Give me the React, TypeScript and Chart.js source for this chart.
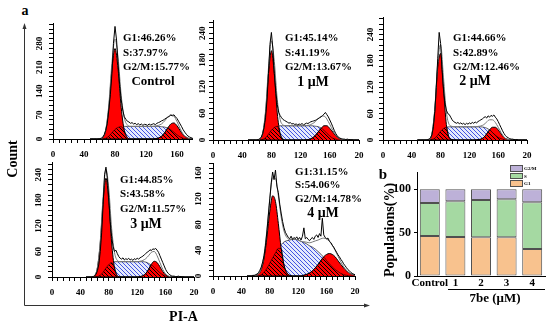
import React, { useEffect, useRef } from 'react';
import { Chart, registerables } from 'chart.js';
Chart.register(...registerables);

const FONT = "'Liberation Serif', 'Times New Roman', Times, serif";

function grid(start: number, end: number, step: number) {
  const a: number[] = [];
  for (let v = start; v <= end + 1e-9; v += step) a.push(Math.round(v * 1000) / 1000);
  return a;
}
const FIT_X = grid(48, 200, 4);
const RAW_X = grid(48, 200, 2);

// ---------- Control ----------
const CTRL_RAW = [0,0,0,0,0,0,1,2,5,12,25,45,85,130,190,280,330,290,220,160,115,85,65,58,52,50,46,48,44,46,42,45,41,44,40,43,42,40,44,41,43,45,42,46,48,50,53,55,58,61,64,66,70,68,71,65,60,52,44,36,27,20,14,9,6,4,2,1,1];
const CTRL_G1 = [0,0,0,0,4,25,92,204,265,204,92,25,4];
const CTRL_S = [0,0,0,0,0,2,8,18,28,34,36,37,37,37,37,37,37,37,37,37,37,37,37,36,35,32,27,20,12,6,2,1];
const CTRL_G2 = [0,0,0,0,0,0,0,0,0,0,0,0,0,0,0,0,0,0,0,0,0,1,3,8,18,32,44,47,39,25,12,5,1];

// ---------- 1 uM ----------
const UM1_RAW = [0,0,0,0,0,0,0,1,3,6,14,28,50,90,150,215,242,205,150,110,80,62,55,50,46,44,42,40,38,39,36,37,35,36,34,36,35,37,34,36,38,37,39,41,42,43,44,46,48,50,52,55,58,62,57,52,45,38,30,22,15,10,6,4,3,2,2,1,2,1,1,1];
const UM1_G1 = [0,0,0,0,2,14,61,149,201,149,61,14,2];
const UM1_S = [0,0,0,0,0,1,5,13,22,28,31,32,32,32,32,32,32,32,32,32,32,32,32,31,30,27,22,15,9,4,2];
const UM1_G2 = [0,0,0,0,0,0,0,0,0,0,0,0,0,0,0,0,0,0,0,0,0.5,1.6,4.5,10,18,26,32,32,26,18,10,4.5,1.6,0.5];

// ---------- 2 uM ----------
const UM2_RAW = [0,0,0,0,0,0,0,1,2,5,12,30,65,120,185,245,220,160,115,85,68,60,58,52,46,42,40,38,40,37,39,36,38,35,38,36,39,37,40,38,41,39,42,44,46,48,51,53,50,55,52,56,54,57,52,48,42,35,28,21,15,10,7,5,3,2,2,1,1,1];
const UM2_G1 = [0,0,0,0,1,14,69,165,197,117,35,5,1];
const UM2_S = [0,0,0,0,0,1,4,11,20,26,29,30,30,30,30,30,30,30,30,30,30,30,30,29,27,23,17,11,6,3,1];
const UM2_G2 = [0,0,0,0,0,0,0,0,0,0,0,0,0,0,0,0,0,0,0,0,0,1,2,6,14,23,29,29,23,14,6,2,1];

// ---------- 3 uM ----------
const UM3_RAW = [0,0,0,0,0,1,3,6,15,30,60,105,170,240,258,230,185,130,95,72,60,63,55,48,44,42,45,40,43,41,44,40,42,39,43,41,44,42,45,47,49,52,55,58,60,64,62,66,65,67,63,58,50,42,34,26,18,12,8,5,3,2,2,1,1,2,1,1,1];
const UM3_G1 = [0,0,0,3,22,80,178,232,178,80,22,3];
const UM3_S = [0,0,0,0,1,4,11,21,29,34,36,36,36,36,36,36,36,36,36,36,36,35,32,28,23,16,10,5,2,1];
const UM3_G2 = [0,0,0,0,0,0,0,0,0,0,0,0,0,0,0,0,0,0,0,1,3,8,18,30,37,34,24,13,5,1.5];

// ---------- 4 uM ----------
const UM4_RAW = [0,0,0,0,1,1,2,3,5,9,14,22,32,48,70,95,120,145,162,150,165,140,130,112,98,85,75,68,64,60,58,62,57,60,58,61,57,60,56,62,75,58,60,57,55,58,60,57,62,64,60,66,62,90,64,60,58,59,54,52,48,45,41,37,33,30,26,23,19,16,13,10,8,6,4,3,2];
const UM4_G1 = [0,0,0,1,3,10,28,61,101,125,116,82,43,17,5,1];
const UM4_S = [0,0,0,0,0,2,6,12,20,28,36,43,49,53,55,56,57,57,56,54,52,50,47,45,42,38,34,29,24,19,14,10,7,4,2,1];
const UM4_G2 = [0,0,0,0,0,0,0,0,0,0,0,0,0,0,0,0,0,0,0,0,1.3,2.6,4.7,8,12.6,18,24,30,33.6,35,33.6,30,24,18,12.6,8,4.7,2.6,1.3];

// ---------- cell-cycle percentages (panel b and annotations) ----------
const CONDITIONS = ['Control', '1', '2', '3', '4'];
const PANEL_NAMES = ['Control', '1 μM', '2 μM', '3 μM', '4 μM'];
const G1_PCT = [46.26, 45.14, 44.66, 44.85, 31.15];
const S_PCT = [37.97, 41.19, 42.89, 43.58, 54.06];
const G2M_PCT = [15.77, 13.67, 12.46, 11.57, 14.78];

const X_MAJOR = 40;
const X_MINOR = 8;
const BAR_Y_TICKS = [0, 50, 100];

type PanelDef = {
  raw: number[]; g1: number[]; s: number[]; g2: number[];
  left: number; top: number; plotW: number; plotH: number;
  yMax: number; yMajor: number; yMinor: number; labOff: number; clipRight?: number;
  ax: number; ay: number[]; lx: number; ly: number; ls: number;
};

const PANELS: PanelDef[] = [
  { raw: CTRL_RAW, g1: CTRL_G1, s: CTRL_S, g2: CTRL_G2, left: 53, top: 23, plotW: 155, plotH: 116, yMax: 340, yMajor: 70, yMinor: 14, labOff: 13.5, clipRight: 193, ax: 123, ay: [37, 52, 66], lx: 153, ly: 80, ls: 13 },
  { raw: UM1_RAW, g1: UM1_G1, s: UM1_S, g2: UM1_G2, left: 213, top: 20, plotW: 146, plotH: 120, yMax: 270, yMajor: 60, yMinor: 12, labOff: 10.5, ax: 285, ay: [37, 52, 66], lx: 313, ly: 82, ls: 14 },
  { raw: UM2_RAW, g1: UM2_G1, s: UM2_S, g2: UM2_G2, left: 383, top: 17, plotW: 144, plotH: 123, yMax: 280, yMajor: 60, yMinor: 12, labOff: 12, ax: 453, ay: [37, 52, 66], lx: 475, ly: 81, ls: 14 },
  { raw: UM3_RAW, g1: UM3_G1, s: UM3_S, g2: UM3_G2, left: 52, top: 162, plotW: 142, plotH: 115, yMax: 270, yMajor: 60, yMinor: 12, labOff: 13, ax: 120, ay: [179, 193, 208], lx: 146, ly: 224, ls: 14 },
  { raw: UM4_RAW, g1: UM4_G1, s: UM4_S, g2: UM4_G2, left: 213, top: 163, plotW: 142, plotH: 113, yMax: 176, yMajor: 40, yMinor: 8, labOff: 14.5, ax: 295, ay: [171, 184, 198], lx: 323, ly: 213, ls: 14 },
];

// crisp diagonal ("\") hatch tile, one pixel per row
function makeHatch(ctx: CanvasRenderingContext2D, color: string, s: number, bg?: string) {
  const c = document.createElement('canvas');
  c.width = s; c.height = s;
  const g = c.getContext('2d')!;
  if (bg) { g.fillStyle = bg; g.fillRect(0, 0, s, s); }
  g.fillStyle = color;
  for (let i = 0; i < s; i++) g.fillRect(i, i, 1, 1);
  return ctx.createPattern(c, 'repeat')!;
}

const LPAD = 24, TPAD = 6, RPAD = 14, BPAD = 26, YW = 6, XH = 22;

function HistPanel({ p }: { p: PanelDef }) {
  const ref = useRef<HTMLCanvasElement>(null);
  useEffect(() => {
    const canvas = ref.current!;
    const ctx = canvas.getContext('2d')!;
    const blue = makeHatch(ctx, '#4356e2', 4, '#e6eafc');
    const black = makeHatch(ctx, '#000', 4);
    const val = (a: number[], i: number) => a[i] ?? 0;
    const env = FIT_X.map((_, i) => val(p.g1, i) + val(p.s, i) + val(p.g2, i));
    const ov = FIT_X.map((_, i) => Math.min(val(p.s, i), val(p.g1, i) + val(p.g2, i)));
    const fitPts = (a: number[]) => FIT_X.map((x, i) => ({ x, y: val(a, i) }));
    const rawPts = RAW_X.map((x, i) => ({ x, y: val(p.raw, i) }));
    const xTicks = grid(0, 200, X_MINOR);
    const yTicks = grid(0, p.yMax, p.yMinor);
    const common = { pointRadius: 0, cubicInterpolationMode: 'monotone' as const };
    const yLabels = {
      id: 'rotY',
      afterDraw(chart: any) {
        const s = chart.scales.y;
        const c = chart.ctx;
        c.save();
        c.font = `bold 9px ${FONT}`;
        c.fillStyle = '#000';
        c.textAlign = 'center';
        c.textBaseline = 'middle';
        s.ticks.forEach((t: any) => {
          if (!t.label) return;
          const y = s.getPixelForValue(t.value);
          c.save();
          c.translate(chart.chartArea.left - p.labOff, y);
          c.rotate(-Math.PI / 2);
          c.fillText(String(t.label), 0, 0);
          c.restore();
        });
        c.restore();
      },
    };
    const axisGrid = { drawOnChartArea: false, drawTicks: true, tickLength: 4, color: '#000', lineWidth: 1 };
    const chart = new Chart(canvas, {
      type: 'line',
      data: {
        datasets: [
          { data: rawPts, borderColor: '#000', borderWidth: 1, pointRadius: 0, fill: false, tension: 0, order: 0 },
          { data: fitPts(env), borderColor: '#777', borderWidth: 1, fill: false, order: 1, ...common },
          { data: fitPts(ov), borderColor: '#000', borderWidth: 0.6, backgroundColor: black, fill: 'origin', order: 2, ...common },
          { data: fitPts(p.g2), borderColor: '#000', borderWidth: 1, backgroundColor: '#ff0000', fill: 'origin', order: 3, ...common },
          { data: fitPts(p.g1), borderColor: '#000', borderWidth: 1, backgroundColor: '#ff0000', fill: 'origin', order: 4, ...common },
          { data: fitPts(p.s), borderColor: '#000', borderWidth: 0.6, backgroundColor: blue, fill: 'origin', order: 5, ...common },
        ],
      },
      options: {
        animation: false,
        responsive: false,
        maintainAspectRatio: false,
        events: [],
        layout: { padding: { left: LPAD - YW, top: TPAD, right: RPAD, bottom: BPAD - XH } },
        plugins: { legend: { display: false }, tooltip: { enabled: false } },
        scales: {
          x: {
            type: 'linear', min: 0, max: 200,
            afterBuildTicks: (s: any) => { s.ticks = xTicks.map((v) => ({ value: v })); },
            afterFit: (s: any) => { s.height = XH; },
            ticks: {
              autoSkip: false, maxRotation: 0, minRotation: 0, padding: 6, color: '#000',
              font: { family: FONT, size: 9, weight: 'bold' },
              callback: (v: any) => (v % X_MAJOR === 0 ? (v === 200 ? '20' : String(v)) : ''),
            },
            grid: axisGrid,
            border: { display: true, color: '#000', width: 1 },
          },
          y: {
            type: 'linear', min: 0, max: p.yMax,
            afterBuildTicks: (s: any) => { s.ticks = yTicks.map((v) => ({ value: v })); },
            afterFit: (s: any) => { s.width = YW; },
            ticks: { display: false, callback: (v: any) => (v % p.yMajor === 0 ? String(v) : '') },
            grid: axisGrid,
            border: { display: true, color: '#000', width: 1 },
          },
        },
      } as any,
      plugins: [yLabels],
    });
    return () => chart.destroy();
  }, []);
  const cl = p.left - LPAD;
  const ct = p.top - TPAD;
  const cw = LPAD + p.plotW + RPAD;
  const ch = TPAD + p.plotH + BPAD;
  const vw = p.clipRight ? p.clipRight - cl : cw;
  return (
    <div style={{ position: 'absolute', left: cl, top: ct, width: vw, height: ch, overflow: 'hidden' }}>
      <canvas ref={ref} width={cw} height={ch} style={{ position: 'absolute', left: 0, top: 0, width: cw, height: ch }} />
    </div>
  );
}

const BAR_COLORS = { g1: '#F8C28E', s: '#A5D9A2', g2m: '#BDB1D8' };
const BAR_BORDER = '#505050';

function BarPanel() {
  const ref = useRef<HTMLCanvasElement>(null);
  const CL = 365, CT = 160, CW = 185, CH = 150;
  useEffect(() => {
    const chart = new Chart(ref.current!, {
      type: 'bar',
      data: {
        labels: CONDITIONS,
        datasets: [
          { label: 'G1', data: G1_PCT, backgroundColor: BAR_COLORS.g1, borderColor: BAR_BORDER, borderWidth: 1, borderSkipped: false },
          { label: 'S', data: S_PCT, backgroundColor: BAR_COLORS.s, borderColor: BAR_BORDER, borderWidth: 1, borderSkipped: false },
          { label: 'G2/M', data: G2M_PCT, backgroundColor: BAR_COLORS.g2m, borderColor: BAR_BORDER, borderWidth: 1, borderSkipped: false },
        ],
      },
      options: {
        animation: false,
        responsive: false,
        maintainAspectRatio: false,
        events: [],
        datasets: { bar: { categoryPercentage: 1, barPercentage: 0.78 } },
        layout: { padding: { left: 52 - 30, top: 12, right: 5, bottom: 34 - 20 } },
        plugins: { legend: { display: false }, tooltip: { enabled: false } },
        scales: {
          x: {
            stacked: true,
            afterFit: (s: any) => { s.height = 20; },
            grid: { drawOnChartArea: false, drawTicks: false },
            border: { display: true, color: '#000', width: 1 },
            ticks: { padding: 1, autoSkip: false, maxRotation: 0, minRotation: 0, color: '#000', font: { family: FONT, size: 11, weight: 'bold' } },
          },
          y: {
            stacked: true, min: 0, max: 120,
            afterBuildTicks: (s: any) => { s.ticks = BAR_Y_TICKS.map((v) => ({ value: v })); },
            afterFit: (s: any) => { s.width = 30; },
            grid: { drawOnChartArea: false, drawTicks: true, tickLength: 3, color: '#000' },
            border: { display: true, color: '#000', width: 1 },
            ticks: { padding: 3, color: '#000', font: { family: FONT, size: 12, weight: 'bold' } },
          },
        },
      } as any,
    });
    return () => chart.destroy();
  }, []);
  return <canvas ref={ref} width={CW} height={CH} style={{ position: 'absolute', left: CL, top: CT, width: CW, height: CH }} />;
}

function Txt({ x, y, size, children, anchor = 'left', rotate = false }: any) {
  const tr = rotate ? 'translate(-50%,-50%) rotate(-90deg)' : anchor === 'center' ? 'translate(-50%,-50%)' : 'translateY(-50%)';
  return (
    <div style={{ position: 'absolute', left: x, top: y, transform: tr, fontFamily: FONT, fontWeight: 'bold', fontSize: size, lineHeight: 1, whiteSpace: 'nowrap', color: '#000' }}>
      {children}
    </div>
  );
}

const LEGEND = [
  { label: 'G2/M', color: BAR_COLORS.g2m, y: 165 },
  { label: 'S', color: BAR_COLORS.s, y: 172.5 },
  { label: 'G1', color: BAR_COLORS.g1, y: 180 },
];

export default function App() {
  return (
    <div style={{ position: 'absolute', left: 0, top: 0, width: 550, height: 328, overflow: 'hidden', background: '#fff' }}>
      <svg width={550} height={328} style={{ position: 'absolute', left: 0, top: 0 }}>
        <line x1={24.5} y1={28} x2={24.5} y2={305.5} stroke="#333" strokeWidth={1} />
        <line x1={24.5} y1={305.5} x2={366} y2={305.5} stroke="#333" strokeWidth={1} />
        <polygon points="24.5,23 22.5,29 26.5,29" fill="#333" />
        <polygon points="370,305.5 364,303.5 364,307.5" fill="#333" />
        <line x1={448} y1={289.5} x2={545} y2={289.5} stroke="#000" strokeWidth={1} />
      </svg>
      {PANELS.map((p, i) => <HistPanel key={i} p={p} />)}
      <BarPanel />
      {PANELS.map((p, i) => (
        <React.Fragment key={'t' + i}>
          <Txt x={p.ax} y={p.ay[0]} size={11}>{`G1:${G1_PCT[i].toFixed(2)}%`}</Txt>
          <Txt x={p.ax} y={p.ay[1]} size={11}>{`S:${S_PCT[i].toFixed(2)}%`}</Txt>
          <Txt x={p.ax} y={p.ay[2]} size={11}>{`G2/M:${G2M_PCT[i].toFixed(2)}%`}</Txt>
          <Txt x={p.lx} y={p.ly} size={p.ls} anchor="center">{PANEL_NAMES[i]}</Txt>
        </React.Fragment>
      ))}
      <Txt x={25} y={10.5} size={14} anchor="center">a</Txt>
      <Txt x={383} y={174} size={15} anchor="center">b</Txt>
      <Txt x={12.5} y={159} size={14} rotate>Count</Txt>
      <Txt x={183.5} y={317} size={14} anchor="center">PI-A</Txt>
      <Txt x={390} y={230} size={14} rotate>Populations(%)</Txt>
      <Txt x={495} y={297} size={13} anchor="center">7be (μM)</Txt>
      {LEGEND.map((l) => (
        <React.Fragment key={l.label}>
          <div style={{ position: 'absolute', left: 510, top: l.y, width: 11, height: 4.5, background: l.color, border: `1px solid ${BAR_BORDER}` }} />
          <Txt x={524} y={l.y + 3} size={5}>{l.label}</Txt>
        </React.Fragment>
      ))}
    </div>
  );
}
